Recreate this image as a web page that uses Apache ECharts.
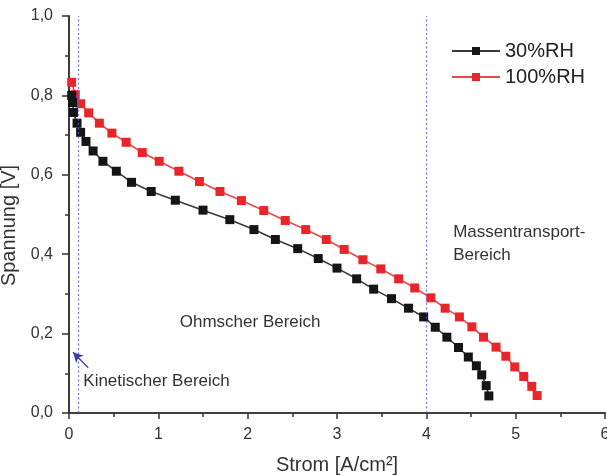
<!DOCTYPE html>
<html>
<head>
<meta charset="utf-8">
<script src="https://cdn.jsdelivr.net/npm/echarts@6/dist/echarts.min.js"></script>
<style>html,body{margin:0;padding:0;background:#fff}#c{width:607px;height:475px}</style>
</head>
<body>
<div id="c"></div>
<script>
// ---- data ----
const seriesNames = ['30%RH', '100%RH'];
const rh30X = [0.03,0.04,0.05,0.09,0.13,0.19,0.27,0.38,0.53,0.70,0.92,1.19,1.50,1.80,2.07,2.31,2.56,2.79,3.00,3.22,3.41,3.61,3.80,3.97,4.10,4.23,4.36,4.47,4.56,4.62,4.67,4.70];
const rh30Y = [0.800,0.782,0.757,0.730,0.707,0.684,0.660,0.634,0.609,0.581,0.558,0.536,0.511,0.487,0.462,0.437,0.414,0.389,0.365,0.338,0.312,0.288,0.264,0.242,0.216,0.191,0.165,0.141,0.119,0.096,0.069,0.043];
const rh100X = [0.03,0.07,0.13,0.22,0.34,0.48,0.64,0.82,1.01,1.23,1.46,1.69,1.93,2.18,2.42,2.65,2.88,3.08,3.29,3.49,3.69,3.87,4.05,4.21,4.37,4.51,4.64,4.78,4.89,4.99,5.09,5.18,5.24];
const rh100Y = [0.833,0.802,0.779,0.756,0.730,0.705,0.682,0.656,0.634,0.609,0.583,0.558,0.535,0.510,0.485,0.462,0.437,0.412,0.386,0.363,0.338,0.315,0.290,0.264,0.242,0.217,0.191,0.166,0.143,0.116,0.092,0.067,0.044];
const regionBoundaries = [0.1, 4.0];
const xTicks = [0, 1, 2, 3, 4, 5, 6];
const yTicks = [0, 0.2, 0.4, 0.6, 0.8, 1.0];
const annotations = [
  { text: 'Ohmscher Bereich', x: 1.24, y: 0.228 },
  { text: 'Kinetischer Bereich', x: 0.16, y: 0.080 },
  { text: 'Massentransport-', x: 4.30, y: 0.455 },
  { text: 'Bereich', x: 4.30, y: 0.396 }
];
const arrowFrom = [0.215, 0.114];
const arrowTo = [0.045, 0.153];

const FONT = '"Liberation Sans", Arial, sans-serif';
const zip = (xs, ys) => xs.map((x, i) => [x, ys[i]]);
const fmtY = v => v.toFixed(1).replace('.', ',');

const chart = echarts.init(document.getElementById('c'), null, { renderer: 'canvas' });
const axisLine = { show: true, lineStyle: { color: '#333', width: 1.6 } };

const option = {
  animation: false,
  backgroundColor: '#fff',
  grid: { left: 69, top: 16, right: 2, bottom: 62, containLabel: false, outerBoundsMode: 'none' },
  legend: {
    orient: 'vertical', left: 446, top: 36, itemGap: 6,
    itemWidth: 48, itemHeight: 10,
    textStyle: { fontFamily: FONT, fontSize: 20, color: '#222' },
    data: seriesNames
  },
  xAxis: [{
    type: 'value', min: xTicks[0], max: xTicks[xTicks.length - 1], interval: 1,
    position: 'bottom',
    name: 'Strom [A/cm²]', nameLocation: 'middle', nameGap: 42,
    nameTextStyle: { fontFamily: FONT, fontSize: 20, color: '#333' },
    axisLine: axisLine,
    axisTick: { show: true, inside: false, length: 6, lineStyle: { color: '#333', width: 1.5 } },
    minorTick: { show: true, splitNumber: 2, length: 4, lineStyle: { color: '#333', width: 1.5 } },
    axisLabel: { fontFamily: FONT, fontSize: 16, color: '#333', margin: 14 },
    splitLine: { show: false }
  }, {
    type: 'value', min: xTicks[0], max: xTicks[xTicks.length - 1], interval: 1,
    position: 'top',
    axisLine: axisLine,
    axisTick: { show: true, inside: true, length: 6, lineStyle: { color: '#333', width: 1.5 } },
    minorTick: { show: true, splitNumber: 2, length: 4, lineStyle: { color: '#333', width: 1.5 } },
    axisLabel: { show: false },
    splitLine: { show: false }
  }],
  yAxis: [{
    type: 'value', min: yTicks[0], max: yTicks[yTicks.length - 1], interval: 0.2,
    position: 'left',
    name: 'Spannung [V]', nameLocation: 'middle', nameGap: 45,
    nameTextStyle: { fontFamily: FONT, fontSize: 20, color: '#333', padding: [0, 22, 0, 0] },
    axisLine: axisLine,
    axisTick: { show: true, inside: false, length: 7, lineStyle: { color: '#333', width: 1.5 } },
    minorTick: { show: true, splitNumber: 2, length: 4, lineStyle: { color: '#333', width: 1.5 } },
    axisLabel: { fontFamily: FONT, fontSize: 16, color: '#333', margin: 16, formatter: fmtY },
    splitLine: { show: false }
  }, {
    type: 'value', min: yTicks[0], max: yTicks[yTicks.length - 1], interval: 0.2,
    position: 'right',
    axisLine: axisLine,
    axisTick: { show: true, inside: true, length: 6, lineStyle: { color: '#333', width: 1.5 } },
    minorTick: { show: true, splitNumber: 2, length: 4, lineStyle: { color: '#333', width: 1.5 } },
    axisLabel: { show: false },
    splitLine: { show: false }
  }],
  series: [{
    name: seriesNames[0], type: 'line', data: zip(rh30X, rh30Y),
    symbol: 'rect', symbolSize: 9, z: 4,
    lineStyle: { color: '#3a3a3a', width: 1.6 },
    itemStyle: { color: '#151515' },
    markLine: {
      silent: true, symbol: ['none', 'none'], label: { show: false },
      lineStyle: { color: '#5c5ce6', type: [2, 2.5], width: 1.2, opacity: 0.85 },
      data: regionBoundaries.map(v => ({ xAxis: v }))
    }
  }, {
    name: seriesNames[1], type: 'line', data: zip(rh100X, rh100Y),
    symbol: 'rect', symbolSize: 9, z: 3,
    lineStyle: { color: '#e84848', width: 1.6 },
    itemStyle: { color: '#e8262a' },
    markLine: {
      silent: true, symbol: ['none', 'arrow'], symbolSize: [8, 10], label: { show: false },
      lineStyle: { color: '#3b3ba8', type: 'solid', width: 1.2 },
      data: [[{ coord: arrowFrom }, { coord: arrowTo }]]
    }
  }]
};
chart.setOption(option);

// annotation texts placed via the chart's own scales
const g = annotations.map(a => {
  const p = chart.convertToPixel({ xAxisIndex: 0, yAxisIndex: 0 }, [a.x, a.y]);
  return {
    type: 'text', x: p[0], y: p[1], z: 10,
    style: { text: a.text, fontFamily: FONT, fontSize: 17, fill: '#333', verticalAlign: 'middle' }
  };
});
chart.setOption({ graphic: g });
</script>
</body>
</html>
